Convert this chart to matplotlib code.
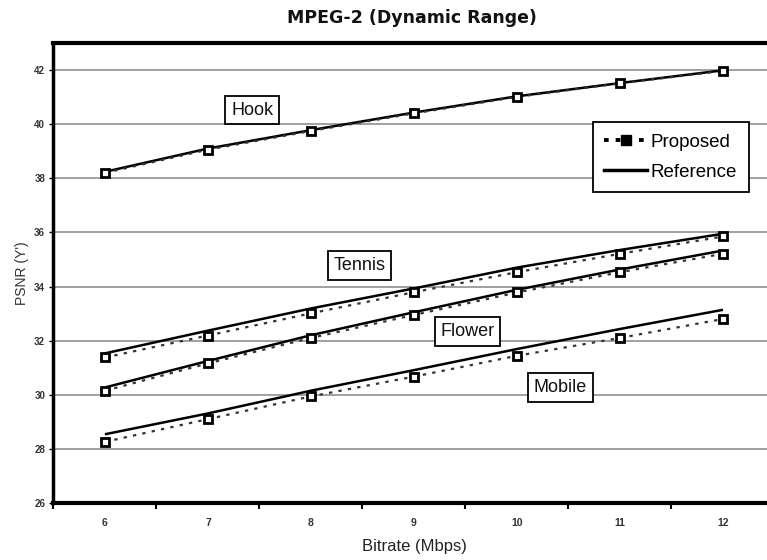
import matplotlib
matplotlib.use("Agg")
import matplotlib.pyplot as plt
from matplotlib.lines import Line2D

plt.rcParams['font.family'] = ['Liberation Sans', 'DejaVu Sans']

bitrates = [6, 7, 8, 9, 10, 11, 12]

# PSNR values per sequence
hook_proposed = [38.20, 39.06, 39.75, 40.40, 41.01, 41.51, 41.97]
hook_reference = [38.24, 39.10, 39.78, 40.43, 41.03, 41.52, 41.99]

tennis_proposed = [31.38, 32.19, 33.01, 33.79, 34.53, 35.21, 35.85]
tennis_reference = [31.53, 32.37, 33.19, 33.93, 34.70, 35.35, 35.95]

flower_proposed = [30.15, 31.16, 32.10, 32.95, 33.78, 34.53, 35.21]
flower_reference = [30.27, 31.25, 32.20, 33.05, 33.88, 34.63, 35.33]

mobile_proposed = [28.26, 29.10, 29.94, 30.67, 31.44, 32.10, 32.80]
mobile_reference = [28.54, 29.31, 30.15, 30.91, 31.69, 32.43, 33.14]

sequences = [
    ("Hook", hook_proposed, hook_reference, (7.43, 40.52)),
    ("Tennis", tennis_proposed, tennis_reference, (8.47, 34.78)),
    ("Flower", flower_proposed, flower_reference, (9.52, 32.33)),
    ("Mobile", mobile_proposed, mobile_reference, (10.42, 30.26)),
]

y_ticks = [26, 28, 30, 32, 34, 36, 38, 40, 42]

fig = plt.figure(figsize=(7.67, 5.6), dpi=100)
ax = fig.add_axes([0.0697, 0.1018, 0.940, 0.8214])

for name, prop, ref, (lx, ly) in sequences:
    ax.plot(bitrates, ref, color='black', lw=1.8, solid_capstyle='butt', zorder=3)
    ax.plot(bitrates, prop, color='#333333', lw=1.6, linestyle=(0, (1.5, 2.8)),
            marker='s', markersize=6, markerfacecolor='white',
            markeredgecolor='black', markeredgewidth=2.0, zorder=4)
    ax.text(lx, ly, name, fontsize=13, ha='center', va='center', color='#111111',
            bbox=dict(boxstyle='square,pad=0.32', facecolor='white',
                      edgecolor='black', linewidth=1.3), zorder=5)

ax.set_xlim(5.5, 12.5)
ax.set_ylim(26, 43)

ax.set_yticks(y_ticks)
ax.set_yticklabels([str(v) for v in y_ticks], fontsize=7, color='#333333',
                   fontweight='bold')
ax.yaxis.grid(True, color='#a0a0a0', linewidth=1.4)
ax.set_axisbelow(True)

ax.set_xticks(bitrates)
ax.set_xticklabels([str(v) for v in bitrates], fontsize=7.5, color='#333333',
                   fontweight='bold')
ax.set_xticks([b + 0.5 for b in [5] + bitrates], minor=True)
ax.tick_params(axis='x', which='major', length=0, pad=11)
ax.tick_params(axis='x', which='minor', length=4, width=1.5, direction='out')
ax.tick_params(axis='y', which='major', length=3, width=1.0, direction='out', pad=3)

for side in ['top', 'bottom']:
    ax.spines[side].set_linewidth(3.0)
ax.spines['left'].set_linewidth(2.5)
ax.spines['right'].set_visible(False)

ax.set_xlabel('Bitrate (Mbps)', fontsize=12, labelpad=8, color='#222222')
ax.set_ylabel("PSNR (Y')", fontsize=10, labelpad=4, color='#333333')
fig.text(0.5365, 0.968, 'MPEG-2 (Dynamic Range)', fontsize=12.5, fontweight='bold',
         family=['DejaVu Sans'], ha='center', va='center', color='#111111')

handles = [
    Line2D([], [], color='black', lw=2.8, linestyle=(0, (1.2, 1.8)), marker='s',
           markersize=6.5, markerfacecolor='black', markeredgecolor='black'),
    Line2D([], [], color='black', lw=2.5),
]
leg = ax.legend(handles, ['Proposed', 'Reference'], loc='upper left',
                bbox_to_anchor=(0.748, 0.828), borderaxespad=0, fontsize=13.5,
                frameon=True, fancybox=False, edgecolor='black', framealpha=1,
                handlelength=2.3, handletextpad=0.2, borderpad=0.6,
                labelspacing=0.7)
leg.get_frame().set_linewidth(1.3)

fig.savefig('out.png', dpi=100)
